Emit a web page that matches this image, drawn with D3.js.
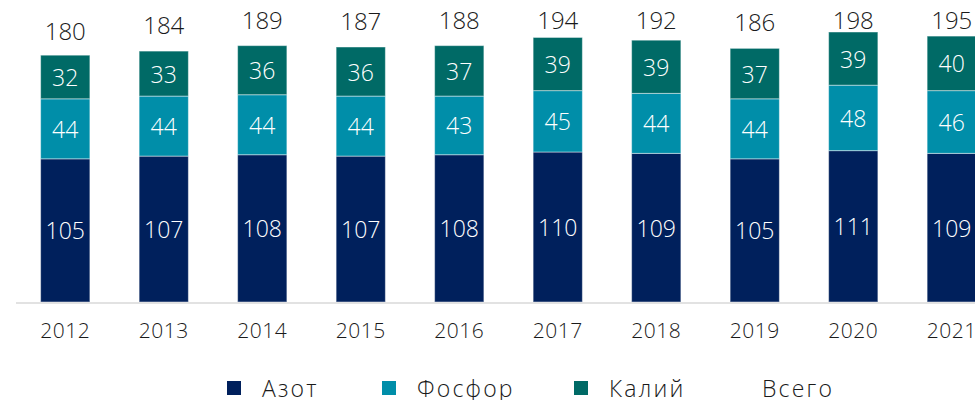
<!DOCTYPE html>
<html>
<head>
<meta charset="utf-8">
<script src="https://cdn.jsdelivr.net/npm/d3@7"></script>
<style>
  body { margin: 0; background: #fff; }
  svg { display: block; font-family: "Open Sans", sans-serif; }
</style>
</head>
<body>
<script>
const years = ['2012', '2013', '2014', '2015', '2016', '2017', '2018', '2019', '2020', '2021'];
const azot = [105, 107, 108, 107, 108, 110, 109, 105, 111, 109];
const fosfor = [44, 44, 44, 44, 43, 45, 44, 44, 48, 46];
const kaliy = [32, 33, 36, 36, 37, 39, 39, 37, 39, 40];
const vsego = [180, 184, 189, 187, 188, 194, 192, 186, 198, 195];

const seriesNames = ['Азот', 'Фосфор', 'Калий'];
const colors = ['#00205c', '#008ea9', '#006a66'];

const width = 975, height = 400;
const svg = d3.select('body').append('svg')
  .attr('width', width).attr('height', height);

// title sits mostly above the visible area, only bracket tails show
svg.append('text')
  .attr('x', 545).attr('y', -3)
  .attr('text-anchor', 'middle')
  .attr('fill', '#008ea9')
  .style('font-size', '22px')
  .style('letter-spacing', '1px')
  .text('(миллионов тонн)');

const x = d3.scaleBand().domain(years).range([16, 1001]).paddingInner(0.5).paddingOuter(0.25);
const y = d3.scaleLinear().domain([0, 220]).range([302, 2]);

const table = years.map((yr, i) => ({ year: yr, 'Азот': azot[i], 'Фосфор': fosfor[i], 'Калий': kaliy[i], total: vsego[i] }));
const stack = d3.stack().keys(seriesNames)(table);

const layers = svg.selectAll('.layer')
  .data(stack)
  .enter().append('g')
  .attr('class', 'layer')
  .attr('fill', (d, i) => colors[i]);

layers.selectAll('rect')
  .data(d => d)
  .enter().append('rect')
  .attr('x', d => x(d.data.year))
  .attr('y', d => y(d[1]))
  .attr('width', x.bandwidth())
  .attr('height', d => y(d[0]) - y(d[1]))
  .attr('stroke', 'rgba(255,255,255,0.45)')
  .attr('stroke-width', 1);

layers.selectAll('text')
  .data(d => d)
  .enter().append('text')
  .attr('x', d => x(d.data.year) + x.bandwidth() / 2)
  .attr('y', d => (y(d[0]) + y(d[1])) / 2 + 9)
  .attr('text-anchor', 'middle')
  .attr('fill', '#fff')
  .style('font-size', '23px')
  .style('font-weight', 300)
  .text(d => d[1] - d[0]);

// axis line
svg.append('line')
  .attr('x1', 16).attr('x2', width)
  .attr('y1', 303).attr('y2', 303)
  .attr('stroke', '#d9d9d9').attr('stroke-width', 1.5);

// totals (Всего)
svg.selectAll('.total')
  .data(table)
  .enter().append('text')
  .attr('class', 'total')
  .attr('x', d => x(d.year) + x.bandwidth() / 2)
  .attr('y', d => Math.max(y(d.total) - 17, 28.5))
  .attr('text-anchor', 'middle')
  .attr('fill', '#1a1a1a')
  .style('font-size', '24px')
  .style('font-weight', 300)
  .text(d => d.total);

// year labels
svg.selectAll('.year')
  .data(years)
  .enter().append('text')
  .attr('class', 'year')
  .attr('x', d => x(d) + x.bandwidth() / 2)
  .attr('y', 338)
  .attr('text-anchor', 'middle')
  .attr('fill', '#1a1a1a')
  .style('font-size', '21px')
  .style('letter-spacing', '0.5px')
  .style('font-weight', 300)
  .text(d => d);

// legend
const legendNames = ['Азот', 'Фосфор', 'Калий', 'Всего'];
const legendX = [227, 382, 574, 727];
const legend = svg.selectAll('.legend')
  .data(legendNames)
  .enter().append('g')
  .attr('class', 'legend')
  .attr('transform', (d, i) => `translate(${legendX[i]},0)`);

legend.filter((d, i) => i < 3).append('rect')
  .attr('y', 381).attr('width', 14).attr('height', 14)
  .attr('fill', (d, i) => colors[i]);

legend.append('text')
  .attr('x', 35).attr('y', 397)
  .attr('fill', '#1a1a1a')
  .style('font-size', '23px')
  .style('letter-spacing', '2.2px')
  .style('font-weight', 300)
  .text(d => d);
</script>
</body>
</html>
